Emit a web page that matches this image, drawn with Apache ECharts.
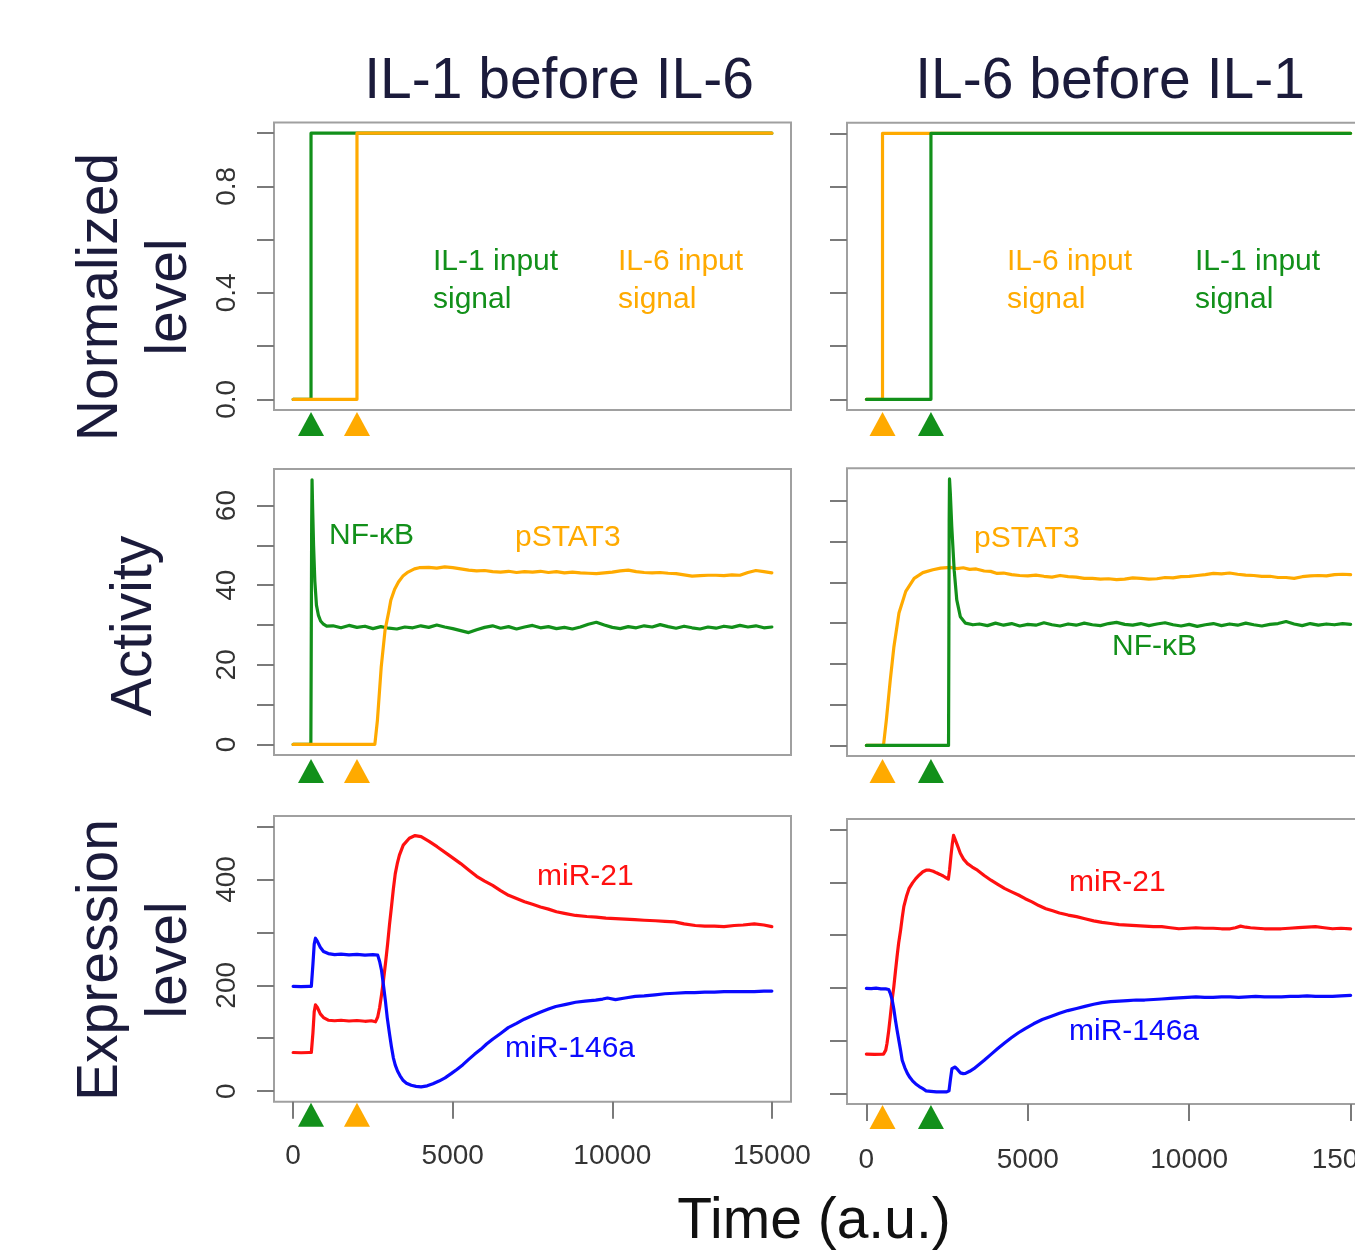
<!DOCTYPE html>
<html><head><meta charset="utf-8">
<script src="https://cdn.jsdelivr.net/npm/echarts@6/dist/echarts.min.js"></script>
<style>html,body{margin:0;padding:0;background:#fff}#c{width:1355px;height:1252px}</style>
</head><body><div id="c"></div><script>
// ---------- DATA ----------
const columnTitles = ['IL-1 before IL-6', 'IL-6 before IL-1'];
const xTickValues = [0, 5000, 10000, 15000];
const yTicksSignal = [0, 0.2, 0.4, 0.6, 0.8, 1.0];
const yLabelsSignal = [0, 0.4, 0.8];
const yTicksActivity = [0, 10, 20, 30, 40, 50, 60];
const yLabelsActivity = [0, 20, 40, 60];
const yTicksExpr = [0, 100, 200, 300, 400, 500];
const yLabelsExpr = [0, 200, 400];

// stimulus times (triangles)
const stimLeft = { il1: 560, il6: 2000 };
const stimRight = { il6: 500, il1: 2000 };

// Row 1: input signals
const il1SignalA = [[0,0],[560,0],[560,1],[15000,1]];
const il6SignalA = [[0,0],[2000,0],[2000,1],[15000,1]];
const il6SignalB = [[0,0],[500,0],[500,1],[15000,1]];
const il1SignalB = [[0,0],[2000,0],[2000,1],[15000,1]];

// Row 2: activity
const nfkbA = [[0,0],[555,0],[565,20],[580,55],[592,66.5],[612,59],[640,50],[680,41],[730,35],[790,32.5],[860,31],[950,30.2],[1050,29.7],[1250,29.8],
 [1500,29.3],[1750,29.9],[2000,29.4],[2250,29.7],[2500,29.1],[2750,29.6],[3000,29.2],[3250,29.0],[3500,29.5],[3750,29.3],[4000,29.8],
 [4250,29.4],[4500,30.0],[4750,29.5],[5000,29.1],[5250,28.6],[5500,28.1],[5750,28.8],[6000,29.4],[6250,29.8],[6500,29.2],[6750,29.6],
 [7000,29.0],[7250,29.5],[7500,29.9],[7750,29.3],[8000,29.6],[8250,29.1],[8500,29.4],[8750,29.0],[9000,29.5],[9250,30.2],[9500,30.7],
 [9750,30.0],[10000,29.4],[10250,29.1],[10500,29.6],[10750,29.3],[11000,29.8],[11250,29.5],[11500,30.1],[11750,29.6],[12000,29.2],
 [12250,29.7],[12500,29.3],[12750,29.0],[13000,29.5],[13250,29.2],[13500,29.7],[13750,29.4],[14000,29.9],[14250,29.5],[14500,29.8],
 [14750,29.3],[15000,29.5]];
const pstat3A = [[0,0],[2560,0],[2640,6],[2760,19.5],[2880,28.7],[3000,33.5],[3060,36.2],[3180,39],[3300,40.8],[3450,42.4],[3600,43.3],
 [3800,44.1],[3950,44.4],[4250,44.5],[4500,44.3],[4750,44.6],[5000,44.4],[5250,44.1],[5500,43.8],[5750,43.6],[6000,43.7],[6250,43.4],
 [6500,43.3],[6750,43.5],[7000,43.2],[7250,43.4],[7500,43.3],[7750,43.5],[8000,43.2],[8250,43.4],[8500,43.1],[8750,43.3],[9000,43.1],
 [9250,43.0],[9500,42.9],[9750,43.1],[10000,43.3],[10250,43.6],[10500,43.8],[10750,43.4],[11000,43.2],[11250,43.1],[11500,43.2],
 [11750,43.0],[12000,42.9],[12250,42.6],[12500,42.3],[12750,42.4],[13000,42.5],[13250,42.5],[13500,42.4],[13750,42.6],[14000,42.5],
 [14250,43.2],[14500,43.7],[14750,43.4],[15000,43.1]];
const pstat3B = [[0,0],[530,0],[620,6.3],[740,16],[850,24],[1010,32.5],[1220,37.8],[1480,41],[1750,42.4],[2060,43.1],[2300,43.5],
 [2600,43.7],[2800,43.4],[3000,43.6],[3200,43.2],[3400,43.3],[3650,42.8],[3850,42.7],[4050,42.2],[4250,42.3],[4500,41.9],[4750,41.7],
 [5000,41.6],[5250,41.8],[5500,41.5],[5750,41.3],[6000,41.7],[6250,41.4],[6500,41.3],[6750,41.0],[7000,41.0],[7250,40.8],[7500,40.9],
 [7750,40.7],[8000,40.8],[8250,41.1],[8500,41.0],[8750,40.8],[9000,40.9],[9250,41.2],[9500,41.1],[9750,41.4],[10000,41.5],[10250,41.7],
 [10500,41.9],[10750,42.2],[11000,42.1],[11250,42.3],[11500,42.0],[11750,41.8],[12000,41.7],[12250,41.5],[12500,41.5],[12750,41.2],
 [13000,41.2],[13250,41.0],[13500,41.4],[13750,41.6],[14000,41.7],[14250,41.6],[14500,41.9],[14750,42.0],[15000,41.9]];
const nfkbB = [[0,0],[2545,0],[2555,25],[2565,55],[2575,65.4],[2600,62],[2645,53.7],[2720,43],[2800,35.7],[2910,31.6],[3070,30.0],
 [3300,29.6],[3500,29.8],[3750,29.4],[4000,30.0],[4250,29.5],[4500,29.9],[4750,29.3],[5000,29.7],[5250,29.5],[5500,30.1],[5750,29.6],
 [6000,29.3],[6250,29.8],[6500,29.5],[6750,30.0],[7000,29.6],[7250,29.4],[7500,29.9],[7750,30.2],[8000,29.7],[8250,29.5],[8500,29.9],
 [8750,29.4],[9000,29.8],[9250,30.1],[9500,29.6],[9750,29.3],[10000,29.7],[10250,29.2],[10500,29.6],[10750,29.9],[11000,29.4],
 [11250,29.8],[11500,29.5],[11750,30.0],[12000,29.6],[12250,29.3],[12500,29.7],[12750,29.9],[13000,30.4],[13250,29.8],[13500,29.4],
 [13750,29.9],[14000,29.5],[14250,29.8],[14500,29.6],[14750,29.9],[15000,29.7]];

// Row 3: expression
const mir21A = [[0,73],[250,72.5],[500,73],[570,73],[620,110],[660,150],[700,163],[760,158],[850,146],[950,139],[1100,134],[1300,133],
 [1500,134],[1750,132.5],[2000,133.5],[2250,132],[2450,133],[2580,131],[2650,140],[2710,158],[2770,182],[2830,209],[2900,245],[2960,278],
 [3020,315],[3080,348],[3140,382],[3200,411],[3270,432],[3330,446],[3450,465],[3640,478],[3820,483],[4010,481],[4260,472],[4510,462],
 [4880,446],[5250,430],[5500,418],[5750,406],[6000,397],[6250,389],[6500,379],[6750,370],[7000,364],[7250,358],[7500,353],[7750,348],
 [8000,344],[8250,339],[8500,336],[8850,332],[9200,330],[9500,329],[9800,327],[10100,326],[10400,325],[10700,324],[11000,323],
 [11350,322],[11650,321],[11950,320],[12250,316],[12600,313],[12900,312],[13200,312],[13500,311],[13820,313],[14100,314],[14450,316],
 [14750,314],[15000,311]];
const mir146A = [[0,198],[250,197.5],[500,198],[570,198],[620,240],[660,278],[700,289],[760,283],[850,272],[950,264],[1100,260],
 [1300,258],[1500,259],[1750,257.5],[2000,258.5],[2250,257],[2500,258],[2650,257],[2710,245],[2770,228],[2830,200],[2890,171],[2950,138],
 [3020,108],[3080,84],[3140,63],[3200,49],[3270,38],[3350,29],[3450,20],[3550,15],[3700,11],[3850,9],[4010,8],[4200,10],[4380,14],
 [4570,19],[4760,25],[4950,33],[5130,41],[5320,50],[5500,60],[5690,70],[5880,79],[6060,89],[6250,98],[6500,109],[6740,120],[7000,128],
 [7240,136],[7500,143],[7740,149],[8000,155],[8230,160],[8550,164],[8850,168],[9150,170],[9480,172],[9700,174],[9850,176],[10100,173],
 [10400,176],[10720,179],[11000,180],[11340,182],[11650,184],[11960,185],[12300,186],[12580,186],[12900,187],[13200,187],[13500,188],
 [13820,188],[14150,188],[14450,188],[14750,189],[15000,189]];
const mir21B = [[0,74.5],[250,74],[530,74.5],[600,82],[640,95],[690,118],[740,145],[790,174],[850,202],[900,231],[950,259],[1000,285],
 [1060,309],[1110,333],[1160,354],[1240,373],[1320,388],[1430,399],[1530,407],[1640,414],[1750,420],[1850,423],[1960,423],[2070,421],
 [2170,418],[2280,415],[2380,412],[2460,409],[2540,406],[2580,425],[2620,450],[2660,472],[2700,489],[2750,486],[2820,470],[2910,455],
 [3010,444],[3120,436],[3280,429],[3440,423],[3650,413],[3860,404],[4070,396],[4290,388],[4500,382],[4710,376],[4920,369],[5130,363],
 [5340,356],[5560,350],[5770,346],[5980,342],[6250,338],[6510,335],[6770,331],[7040,327],[7300,324],[7570,322],[7830,320],[8090,319],
 [8360,318],[8620,317],[8890,316],[9150,316],[9420,314],[9680,312],[9950,313],[10210,314],[10480,313],[10740,313],[11000,312],
 [11270,312],[11430,314],[11590,317],[11750,315],[11900,314],[12100,313],[12330,312],[12600,312],[12850,312],[13100,313],[13380,314],
 [13650,315],[13910,316],[14180,314],[14440,312],[14700,313],[15000,312]];
const mir146B = [[0,199],[150,198.5],[300,199.5],[450,198],[600,198],[690,197],[750,188],[800,177],[850,160],[900,139],[950,120],
 [1005,101],[1060,82],[1110,63],[1190,49],[1270,38],[1350,30],[1430,24],[1530,18],[1640,13],[1750,9],[1850,5],[2000,4],[2170,3],
 [2330,3],[2490,3],[2560,5],[2600,25],[2650,47],[2750,50],[2830,45],[2910,39],[3000,37.5],[3070,38],[3200,42],[3330,47],[3490,55],
 [3650,63],[3860,74],[4070,85],[4290,96],[4500,106],[4710,115],[4920,123],[5180,132],[5450,140],[5710,146],[5980,152],[6240,157],
 [6510,161],[6770,165],[7040,169],[7300,172],[7570,174],[7830,175],[8090,176],[8360,177],[8620,177],[8890,178],[9150,179],[9420,180],
 [9680,181],[9950,182],[10210,183],[10480,182],[10740,182],[11000,183],[11270,183],[11530,182],[11800,183],[12060,184],[12330,183],
 [12590,183],[12860,183],[13120,184],[13380,184],[13650,185],[13910,184],[14180,184],[14440,184],[14700,185],[15000,186]];

// ---------- STYLE / LAYOUT ----------
const GREEN = '#12901a', ORANGE = '#ffaa00', RED = '#ff1010', BLUE = '#0a0aff';
const NAVY = '#1b1b3b', TICK = '#7a7a7a', BORDER = '#a0a0a0', LABEL = '#333333';
const FONT = '"Liberation Sans", Arial, Helvetica, sans-serif';

const grids = [
  {left:274, top:122.5, width:517, height:287.5},
  {left:847, top:122.7, width:523, height:287.3},
  {left:274, top:469,   width:517, height:286},
  {left:847, top:468.3, width:523, height:287.7},
  {left:274, top:816,   width:517, height:285.7},
  {left:847, top:819,   width:523, height:285}
].map(g => Object.assign({show:true, borderColor:BORDER, borderWidth:2, backgroundColor:'transparent', containLabel:false, outerBoundsMode:'none'}, g));

const yRanges = [[-0.04,1.04],[-0.04,1.04],[-2.66,69.2],[-2.6,68.0],[-20,520],[-20,520]];
const yTicks = [yTicksSignal, yTicksSignal, yTicksActivity, yTicksActivity, yTicksExpr, yTicksExpr];
const yLabels = [yLabelsSignal, null, yLabelsActivity, null, yLabelsExpr, null];

const xAxes = grids.map((g, i) => {
  const bottom = i >= 4;
  return {
    type:'value', gridIndex:i, min:-600, max:15600, position:'bottom',
    axisLine:{show:false, onZero:false}, splitLine:{show:false},
    axisTick:{show:bottom, inside:false, customValues:xTickValues, length:17, lineStyle:{color:TICK, width:2}},
    axisLabel:{show:bottom, customValues:xTickValues, margin: (i === 4 ? 41 : 42), fontSize:28, fontFamily:FONT, color:LABEL,
      formatter: v => String(v)}
  };
});
const yAxes = grids.map((g, i) => ({
  type:'value', gridIndex:i, min:yRanges[i][0], max:yRanges[i][1], position:'left',
  axisLine:{show:false, onZero:false}, splitLine:{show:false},
  axisTick:{show:true, inside:false, customValues:yTicks[i], length:17, lineStyle:{color:TICK, width:2}},
  axisLabel: yLabels[i] ? {show:true, customValues:yLabels[i], rotate:90, align:'center', verticalAlign:'bottom', margin:33,
    fontSize:28, fontFamily:FONT, color:LABEL, formatter: v => (i < 2 ? Number(v).toFixed(1) : String(v))} : {show:false}
}));

function line(data, color, gi, z) {
  return {type:'line', data, xAxisIndex:gi, yAxisIndex:gi, symbol:'none', showSymbol:false, animation:false, silent:true,
    lineStyle:{color, width:3.2, cap:'round', join:'round'}, itemStyle:{color}, z};
}
function tri(t, color, gi, off) {
  return {type:'scatter', data:[[t, yRanges[gi][0]]], xAxisIndex:gi, yAxisIndex:gi, symbol:'triangle', symbolSize:[26,24],
    symbolOffset:[0, off], itemStyle:{color, opacity:1}, clip:false, silent:true, animation:false, z:6};
}
const triOff = [14, 14, 16, 15, 13, 13];

const series = [
  line(il1SignalA, GREEN, 0, 2), line(il6SignalA, ORANGE, 0, 3),
  line(il6SignalB, ORANGE, 1, 2), line(il1SignalB, GREEN, 1, 3),
  line(nfkbA, GREEN, 2, 2), line(pstat3A, ORANGE, 2, 3),
  line(pstat3B, ORANGE, 3, 2), line(nfkbB, GREEN, 3, 3),
  line(mir21A, RED, 4, 2), line(mir146A, BLUE, 4, 3),
  line(mir21B, RED, 5, 2), line(mir146B, BLUE, 5, 3)
];
for (let r = 0; r < 3; r++) {
  series.push(tri(stimLeft.il1, GREEN, r*2, triOff[r*2]), tri(stimLeft.il6, ORANGE, r*2, triOff[r*2]));
  series.push(tri(stimRight.il6, ORANGE, r*2+1, triOff[r*2+1]), tri(stimRight.il1, GREEN, r*2+1, triOff[r*2+1]));
}

function txt(text, x, y, color, size, opts) {
  return Object.assign({type:'text', x, y, silent:true, z:10,
    style:{text, fill:color, font: size + 'px ' + FONT, align:'left', verticalAlign:'middle', textAlign:'left', textVerticalAlign:'middle'}}, opts || {});
}
function ctxt(text, x, y, color, size, rot, lh) {
  return {type:'text', x, y, rotation: rot || 0, silent:true, z:10,
    style:{text, fill:color, font: size + 'px ' + FONT, align:'center', verticalAlign:'middle', textAlign:'center', textVerticalAlign:'middle', lineHeight: lh || size}};
}

const graphic = [
  ctxt(columnTitles[0], 559, 82, NAVY, 57),
  ctxt(columnTitles[1], 1110, 82, NAVY, 57),
  ctxt('Time (a.u.)', 814, 1222, '#111111', 57),
  ctxt('Normalized\nlevel', 136, 297, NAVY, 57, Math.PI/2, 69),
  ctxt('Activity', 135, 626, NAVY, 57, Math.PI/2),
  ctxt('Expression\nlevel', 136, 960, NAVY, 57, Math.PI/2, 69),
  // row 1 annotations
  txt('IL-1 input', 433, 262, GREEN, 30), txt('signal', 433, 300, GREEN, 30),
  txt('IL-6 input', 618, 262, ORANGE, 30), txt('signal', 618, 300, ORANGE, 30),
  txt('IL-6 input', 1007, 262, ORANGE, 30), txt('signal', 1007, 300, ORANGE, 30),
  txt('IL-1 input', 1195, 262, GREEN, 30), txt('signal', 1195, 300, GREEN, 30),
  // row 2
  txt('NF-κB', 329, 536, GREEN, 30), txt('pSTAT3', 515, 538, ORANGE, 30),
  txt('pSTAT3', 974, 539, ORANGE, 30), txt('NF-κB', 1112, 647, GREEN, 30),
  // row 3
  txt('miR-21', 537, 877, RED, 30), txt('miR-146a', 505, 1049, BLUE, 30),
  txt('miR-21', 1069, 883, RED, 30), txt('miR-146a', 1069, 1032, BLUE, 30)
];

const chart = echarts.init(document.getElementById('c'), null, {renderer:'canvas'});
chart.setOption({
  animation:false, backgroundColor:'#ffffff',
  grid:grids, xAxis:xAxes, yAxis:yAxes, series, graphic
});
</script></body></html>
